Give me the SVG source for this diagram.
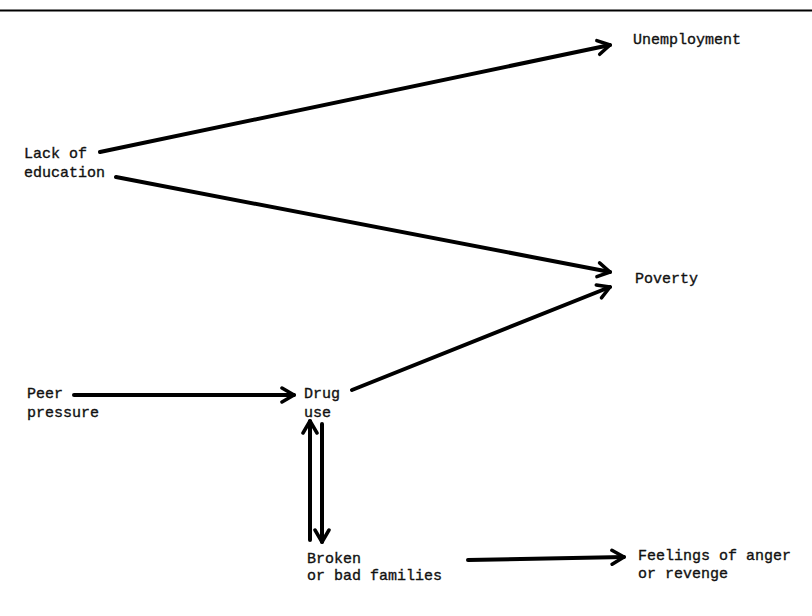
<svg xmlns="http://www.w3.org/2000/svg" width="812" height="616" viewBox="0 0 812 616">
<style>
text{font-family:"Liberation Mono","DejaVu Sans Mono",monospace;font-size:15px;fill:#111;stroke:#111;stroke-width:0.35}
.c{stroke:#000;stroke-width:4;fill:none;stroke-linecap:round}
</style>
<defs>
<marker id="ah" markerUnits="userSpaceOnUse" viewBox="-16 -10 18 20" refX="0" refY="0" markerWidth="18" markerHeight="20" orient="auto">
<path d="M-12,-7 L0,0 L-12,7" fill="none" stroke="#000" stroke-width="3.5" stroke-linecap="round" stroke-linejoin="round"/>
</marker>
</defs>
<rect width="812" height="616" fill="#fff"/>
<line x1="0" y1="10.5" x2="812" y2="10.5" stroke="#000" stroke-width="2"/>
<g id="connectors">
<line class="c" x1="100" y1="152" x2="610" y2="45" marker-end="url(#ah)"/>
<line class="c" x1="116" y1="177" x2="610" y2="272" marker-end="url(#ah)"/>
<line class="c" x1="352" y1="390" x2="610" y2="287" marker-end="url(#ah)"/>
<line class="c" x1="74" y1="395" x2="294" y2="395" marker-end="url(#ah)"/>
<line class="c" x1="310" y1="540" x2="310" y2="421" marker-end="url(#ah)"/>
<line class="c" x1="322" y1="424" x2="322" y2="542" marker-end="url(#ah)"/>
<line class="c" x1="468" y1="560" x2="624" y2="557" marker-end="url(#ah)"/>
</g>
<g id="unemployment"><text x="633" y="44">Unemployment</text></g>
<g id="lack-of-education"><text x="24" y="158">Lack of</text><text x="24" y="177">education</text></g>
<g id="poverty"><text x="635" y="283">Poverty</text></g>
<g id="peer-pressure"><text x="27" y="398">Peer</text><text x="27" y="417">pressure</text></g>
<g id="drug-use"><text x="304" y="398">Drug</text><text x="304" y="417">use</text></g>
<g id="broken-families"><text x="307" y="563">Broken</text><text x="307" y="580">or bad families</text></g>
<g id="feelings"><text x="638" y="560">Feelings of anger</text><text x="638" y="578">or revenge</text></g>
</svg>
